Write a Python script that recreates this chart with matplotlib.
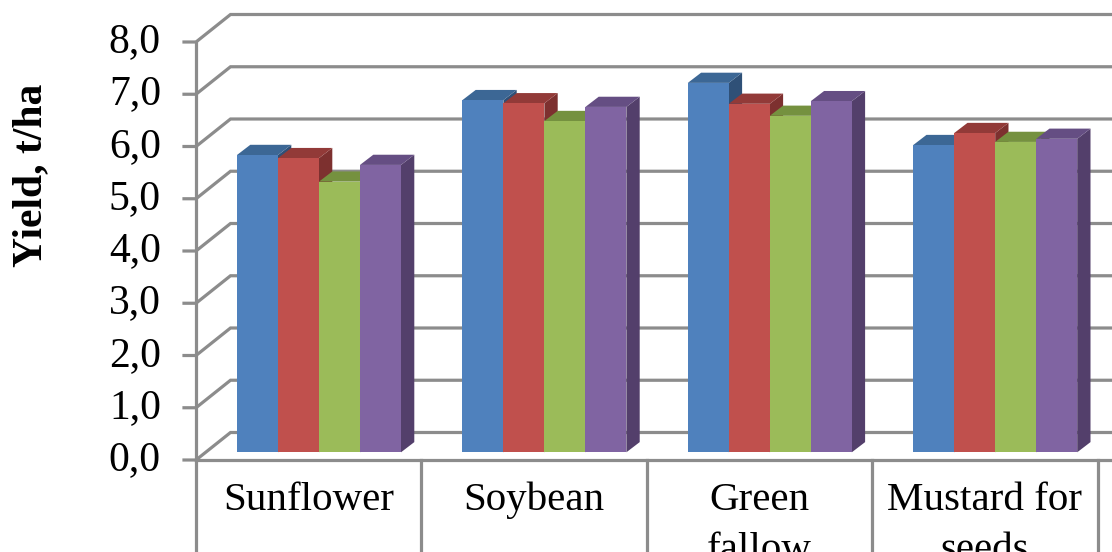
import matplotlib
matplotlib.use('Agg')
import matplotlib.pyplot as plt

categories = ['Sunflower', 'Soybean', 'Green\nfallow', 'Mustard for\nseeds']
series_a = [5.69, 6.74, 7.07, 5.88]
series_b = [5.63, 6.68, 6.67, 6.11]
series_c = [5.18, 6.34, 6.44, 5.94]
series_d = [5.50, 6.61, 6.72, 6.00]
y_ticks = [0, 1, 2, 3, 4, 5, 6, 7, 8]
y_labels = ['0,0', '1,0', '2,0', '3,0', '4,0', '5,0', '6,0', '7,0', '8,0']

# front, top, side colours of each series
colors = [('#4F81BD', '#3C6795', '#2F5077'),
          ('#C0504D', '#923A38', '#7D302F'),
          ('#9BBB59', '#75913F', '#5F7633'),
          ('#8064A2', '#654E83', '#533F6B')]

W, H = 1112, 552
x_px = 225.4   # px per category
y_px = 52.25   # px per 1.0 of yield
x0, y0 = 196, 460  # origin of the chart in pixels

plt.rcParams['font.family'] = ['Liberation Serif', 'DejaVu Serif']
fig = plt.figure(figsize=(W / 100, H / 100), dpi=100)
ax = fig.add_axes([0, 0, 1, 1])
ax.set_xlim(-x0 / x_px, (W - x0) / x_px)
ax.set_ylim(-(H - y0) / y_px, y0 / y_px)
ax.axis('off')

GRID = '#8C8C8C'
LW = 2.3
wall_dx, wall_dy = 34.5 / x_px, 27.5 / y_px
bar_dx, bar_dy = 13.3 / x_px, 10.2 / y_px
bar_w = 41 / x_px
bar_start = 41 / x_px
bar_base = 7.7 / y_px
xmax = ax.get_xlim()[1]

# walls and gridlines
for t, lab in zip(y_ticks, y_labels):
    ax.plot([-12 / x_px, 0, wall_dx, xmax], [t, t, t + wall_dy, t + wall_dy],
            color=GRID, lw=LW, solid_joinstyle='miter', zorder=1)
    ax.text(-35 / x_px, t, lab, ha='right', va='center', fontsize=30, color='black')
ax.plot([0, 0], [0, y_ticks[-1]], color=GRID, lw=LW, zorder=1)

# category table under the floor
ymin = ax.get_ylim()[0]
ax.plot([0, xmax], [0, 0], color=GRID, lw=LW, zorder=4)
for i in range(len(categories) + 1):
    ax.plot([i, i], [0, ymin], color=GRID, lw=LW, zorder=4)
for i, cat in enumerate(categories):
    # one text per line so the first baselines stay level across categories
    for k, line in enumerate(cat.split('\n')):
        ax.text(i + 0.5, -0.957 - k * 0.96, line, ha='center', va='baseline',
                fontsize=29.5, color='black')

# bars, painted left to right so each front hides the previous side
all_series = [series_a, series_b, series_c, series_d]
for i in range(len(categories)):
    for j, vals in enumerate(all_series):
        front, top, side = colors[j]
        left = i + bar_start + j * bar_w
        right = left + bar_w
        v = vals[i] + bar_base
        ax.fill([right, right + bar_dx, right + bar_dx, right],
                [bar_base, bar_base + bar_dy, v + bar_dy, v], color=side, lw=0, zorder=3)
        ax.fill([left, left + bar_dx, right + bar_dx, right],
                [v, v + bar_dy, v + bar_dy, v], color=top, lw=0, zorder=3)
        ax.fill([left, right, right, left],
                [bar_base, bar_base, v, v], color=front, lw=0, zorder=3)

ax.text(-165 / x_px, 5.45, 'Yield, t/ha', rotation=90, ha='center', va='center',
        fontsize=30, fontweight='bold', color='black')

fig.savefig('out.png', dpi=100)
